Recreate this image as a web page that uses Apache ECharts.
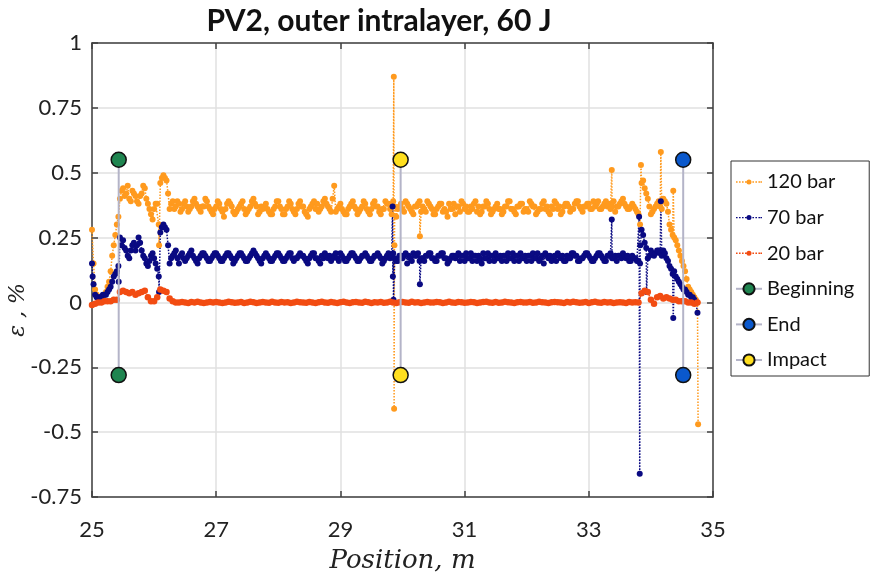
<!DOCTYPE html>
<html>
<head>
<meta charset="utf-8">
<script src="https://cdn.jsdelivr.net/npm/echarts@6/dist/echarts.min.js"></script>
<style>html,body{margin:0;padding:0;background:#fff}#c{width:892px;height:579px}</style>
</head>
<body>
<div id="c"></div>
<script>
const titleText = 'PV2, outer intralayer, 60 J';
const xTicks = [25, 27, 29, 31, 33, 35];
const yTicks = [-0.75, -0.5, -0.25, 0, 0.25, 0.5, 0.75, 1];

const positions = [
25.00,25.05,25.10,25.15,25.20,25.25,25.30,25.35,25.40,25.45,
25.50,25.55,25.60,25.65,25.70,25.75,25.80,25.85,25.90,25.95,
26.00,26.05,26.10,26.15,26.20,26.25,26.30,26.35,26.40,26.45,
26.50,26.55,26.60,26.65,26.70,26.75,26.80,26.85,26.90,26.95,
27.00,27.05,27.10,27.15,27.20,27.25,27.30,27.35,27.40,27.45,
27.50,27.55,27.60,27.65,27.70,27.75,27.80,27.85,27.90,27.95,
28.00,28.05,28.10,28.15,28.20,28.25,28.30,28.35,28.40,28.45,
28.50,28.55,28.60,28.65,28.70,28.75,28.80,28.85,28.90,28.95,
29.00,29.05,29.10,29.15,29.20,29.25,29.30,29.35,29.40,29.45,
29.50,29.55,29.60,29.65,29.70,29.75,29.80,29.85,29.90,29.95,
30.00,30.05,30.10,30.15,30.20,30.25,30.30,30.35,30.40,30.45,
30.50,30.55,30.60,30.65,30.70,30.75,30.80,30.85,30.90,30.95,
31.00,31.05,31.10,31.15,31.20,31.25,31.30,31.35,31.40,31.45,
31.50,31.55,31.60,31.65,31.70,31.75,31.80,31.85,31.90,31.95,
32.00,32.05,32.10,32.15,32.20,32.25,32.30,32.35,32.40,32.45,
32.50,32.55,32.60,32.65,32.70,32.75,32.80,32.85,32.90,32.95,
33.00,33.05,33.10,33.15,33.20,33.25,33.30,33.35,33.40,33.45,
33.50,33.55,33.60,33.65,33.70,33.75,33.80,33.85,33.90,33.95,
34.00,34.05,34.10,34.15,34.20,34.25,34.30,34.35,34.40,34.45,
34.50,34.55,34.60,34.65,34.70,34.75
];
const positionsB = [
25.025,25.075,25.125,25.175,25.225,25.275,25.325,25.375,25.425,25.475,
25.525,25.575,25.625,25.675,25.725,25.775,25.825,25.875,25.925,25.975,
26.025,26.075,26.125,26.175,26.225,26.275,26.325,26.375,26.425,26.475,
26.525,26.575,26.625,26.675,26.725,26.775,26.825,26.875,26.925,26.975,
27.025,27.075,27.125,27.175,27.225,27.275,27.325,27.375,27.425,27.475,
27.525,27.575,27.625,27.675,27.725,27.775,27.825,27.875,27.925,27.975,
28.025,28.075,28.125,28.175,28.225,28.275,28.325,28.375,28.425,28.475,
28.525,28.575,28.625,28.675,28.725,28.775,28.825,28.875,28.925,28.975,
29.025,29.075,29.125,29.175,29.225,29.275,29.325,29.375,29.425,29.475,
29.525,29.575,29.625,29.675,29.725,29.775,29.825,29.875,29.925,29.975,
30.025,30.075,30.125,30.175,30.225,30.275,30.325,30.375,30.425,30.475,
30.525,30.575,30.625,30.675,30.725,30.775,30.825,30.875,30.925,30.975,
31.025,31.075,31.125,31.175,31.225,31.275,31.325,31.375,31.425,31.475,
31.525,31.575,31.625,31.675,31.725,31.775,31.825,31.875,31.925,31.975,
32.025,32.075,32.125,32.175,32.225,32.275,32.325,32.375,32.425,32.475,
32.525,32.575,32.625,32.675,32.725,32.775,32.825,32.875,32.925,32.975,
33.025,33.075,33.125,33.175,33.225,33.275,33.325,33.375,33.425,33.475,
33.525,33.575,33.625,33.675,33.725,33.775,33.825,33.875,33.925,33.975,
34.025,34.075,34.125,34.175,34.225,34.275,34.325,34.375,34.425,34.475,
34.525,34.575,34.625,34.675,34.725
];

const eps120 = [
0.28,0.05,0.02,0.02,0.03,0.06,0.12,0.22,0.30,0.40,
0.44,0.42,0.40,0.43,0.41,0.38,0.42,0.44,0.38,0.34,
0.36,0.38,0.46,0.49,0.47,0.36,0.39,0.37,0.38,0.36,
0.39,0.35,0.37,0.40,0.37,0.35,0.37,0.39,0.36,0.34,
0.37,0.38,0.35,0.36,0.39,0.37,0.34,0.36,0.38,0.36,
0.35,0.37,0.40,0.37,0.35,0.36,0.38,0.35,0.34,0.37,
0.39,0.36,0.34,0.37,0.38,0.35,0.36,0.39,0.37,0.34,
0.36,0.38,0.36,0.35,0.37,0.40,0.37,0.35,0.45,0.36,
0.38,0.35,0.34,0.37,0.39,0.36,0.35,0.37,0.38,0.35,
0.36,0.39,0.37,0.34,0.36,0.38,0.36,0.39,0.33,0.37,
0.36,0.39,0.37,0.35,0.37,0.38,0.35,0.36,0.39,0.37,
0.34,0.36,0.38,0.35,0.35,0.38,0.36,0.34,0.37,0.39,
0.36,0.35,0.37,0.38,0.35,0.34,0.37,0.39,0.36,0.35,
0.37,0.36,0.34,0.37,0.39,0.36,0.35,0.37,0.38,0.35,
0.36,0.39,0.37,0.34,0.36,0.38,0.36,0.35,0.37,0.39,
0.36,0.34,0.37,0.38,0.35,0.36,0.39,0.37,0.35,0.37,
0.38,0.36,0.37,0.39,0.36,0.38,0.37,0.36,0.39,0.37,
0.38,0.40,0.37,0.36,0.38,0.36,0.34,0.46,0.44,0.40,
0.34,0.36,0.38,0.37,0.40,0.38,0.30,0.26,0.24,0.20,
0.16,0.12,0.06,0.04,0.02,0.00
];
const eps120b = [
0.15,0.03,0.02,0.02,0.04,0.08,0.18,0.26,0.33,0.43,
0.41,0.45,0.39,0.42,0.39,0.41,0.45,0.40,0.36,0.32,
0.38,0.30,0.48,0.48,0.42,0.38,0.36,0.39,0.35,0.38,
0.37,0.36,0.39,0.38,0.36,0.37,0.40,0.37,0.35,0.36,
0.39,0.36,0.33,0.38,0.38,0.35,0.35,0.37,0.39,0.34,
0.36,0.39,0.38,0.34,0.37,0.37,0.36,0.34,0.36,0.39,
0.37,0.34,0.36,0.39,0.36,0.34,0.38,0.37,0.35,0.33,
0.37,0.39,0.38,0.36,0.39,0.38,0.36,0.40,0.35,0.37,
0.36,0.34,0.36,0.38,0.37,0.34,0.36,0.39,0.36,0.34,
0.38,0.37,0.35,0.36,0.39,0.38,0.34,0.37,0.36,0.38,
0.35,0.38,0.36,0.34,0.37,0.39,0.37,0.35,0.38,0.36,
0.34,0.37,0.38,0.36,0.33,0.36,0.38,0.37,0.35,0.38,
0.37,0.35,0.36,0.39,0.37,0.35,0.37,0.38,0.34,0.36,
0.38,0.36,0.35,0.37,0.39,0.36,0.34,0.37,0.38,0.36,
0.35,0.38,0.37,0.35,0.36,0.39,0.37,0.34,0.36,0.38,
0.37,0.35,0.38,0.37,0.36,0.38,0.39,0.36,0.37,0.38,
0.36,0.39,0.38,0.36,0.37,0.39,0.38,0.37,0.35,0.37,
0.39,0.38,0.36,0.37,0.37,0.35,0.30,0.47,0.42,0.37,
0.35,0.37,0.39,0.36,0.39,0.35,0.28,0.25,0.22,0.18,
0.14,0.09,0.05,0.03,0.01
];
const spikePos120 = [26.08, 29.86, 29.865, 29.87, 30.28, 33.37, 33.84, 34.16, 34.36, 34.76];
const spikeEps120 = [0.22, 0.87, -0.41, 0.22, 0.255, 0.51, 0.53, 0.58, 0.43, -0.47];

const eps70 = [
0.15,0.03,0.02,0.02,0.03,0.04,0.06,0.10,0.12,0.25,
0.24,0.20,0.17,0.22,0.20,0.25,0.20,0.17,0.14,0.18,
0.17,0.13,0.27,0.30,0.28,0.15,0.18,0.20,0.15,0.19,
0.16,0.18,0.20,0.17,0.15,0.18,0.19,0.17,0.16,0.18,
0.19,0.17,0.16,0.18,0.19,0.17,0.16,0.18,0.19,0.17,
0.16,0.18,0.20,0.18,0.16,0.17,0.19,0.17,0.16,0.18,
0.19,0.17,0.16,0.18,0.19,0.16,0.17,0.19,0.18,0.16,
0.17,0.19,0.17,0.16,0.18,0.19,0.17,0.16,0.18,0.17,
0.19,0.17,0.16,0.18,0.19,0.17,0.16,0.18,0.19,0.17,
0.16,0.18,0.19,0.17,0.16,0.18,0.17,0.19,0.16,0.18,
0.17,0.19,0.18,0.16,0.18,0.19,0.17,0.16,0.18,0.19,
0.17,0.16,0.18,0.19,0.17,0.16,0.18,0.17,0.19,0.18,
0.16,0.17,0.19,0.18,0.16,0.17,0.19,0.17,0.16,0.18,
0.19,0.17,0.16,0.18,0.19,0.17,0.16,0.18,0.19,0.17,
0.16,0.18,0.19,0.17,0.16,0.18,0.19,0.17,0.16,0.18,
0.19,0.17,0.16,0.18,0.17,0.19,0.18,0.16,0.17,0.19,
0.18,0.16,0.17,0.19,0.18,0.16,0.18,0.19,0.17,0.16,
0.18,0.19,0.17,0.16,0.18,0.17,0.16,0.28,0.23,0.17,
0.20,0.18,0.20,0.19,0.20,0.17,0.14,0.11,0.10,0.08,
0.06,0.05,0.03,0.02,0.01,-0.04
];
const eps70b = [
0.07,0.02,0.02,0.03,0.03,0.05,0.08,0.11,0.14,0.22,
0.21,0.18,0.20,0.23,0.22,0.23,0.18,0.15,0.16,0.19,
0.15,0.10,0.29,0.29,0.22,0.17,0.19,0.17,0.18,0.17,
0.17,0.19,0.18,0.16,0.17,0.19,0.18,0.16,0.17,0.19,
0.18,0.16,0.17,0.19,0.18,0.15,0.17,0.19,0.18,0.16,
0.17,0.19,0.19,0.17,0.15,0.18,0.18,0.16,0.17,0.19,
0.18,0.16,0.17,0.19,0.17,0.17,0.18,0.18,0.17,0.15,
0.18,0.19,0.17,0.15,0.17,0.18,0.18,0.17,0.19,0.16,
0.18,0.16,0.17,0.19,0.18,0.16,0.17,0.18,0.18,0.16,
0.17,0.18,0.18,0.15,0.17,0.19,0.18,0.17,0.16,0.18,
0.18,0.15,0.17,0.19,0.18,0.16,0.17,0.18,0.19,0.17,
0.16,0.18,0.19,0.17,0.15,0.17,0.18,0.18,0.16,0.18,
0.19,0.17,0.16,0.18,0.18,0.15,0.17,0.19,0.18,0.16,
0.17,0.18,0.18,0.16,0.17,0.19,0.18,0.16,0.17,0.18,
0.18,0.16,0.17,0.19,0.17,0.15,0.18,0.18,0.17,0.16,
0.18,0.18,0.16,0.17,0.19,0.18,0.16,0.17,0.18,0.19,
0.17,0.16,0.18,0.19,0.17,0.16,0.18,0.17,0.18,0.18,
0.17,0.18,0.18,0.16,0.17,0.16,0.15,0.26,0.21,0.18,
0.19,0.19,0.20,0.18,0.19,0.16,0.13,0.12,0.09,0.07,
0.05,0.04,0.03,0.02,0.00
];
const spikePos70 = [25.01, 25.43, 26.08, 29.84, 29.845, 29.855, 30.28, 33.37, 33.81, 33.82, 33.83, 33.93, 34.16, 34.36];
const spikeEps70 = [0.10, 0.08, 0.04, 0.37, 0.10, 0.01, 0.07, 0.32, 0.33, -0.66, 0.22, 0.04, 0.39, -0.06];

const eps20 = [
-0.01,-0.005,0.0,0.0,0.005,0.005,0.005,0.01,0.01,0.04,
0.045,0.04,0.035,0.04,0.03,0.035,0.04,0.045,0.02,0.005,
0.005,0.02,0.05,0.045,0.04,0.015,0.005,0.0,0.0,0.002,
0.0,-0.002,0.002,0.0,0.003,0.0,-0.002,0.0,0.002,0.0,
0.002,0.0,-0.002,0.0,0.003,0.001,-0.001,0.0,0.002,-0.002,
0.0,0.003,0.001,-0.002,0.0,0.002,0.0,-0.001,0.003,0.0,
-0.001,0.002,0.0,0.001,-0.002,0.0,0.003,0.001,0.0,-0.001,
0.002,0.0,-0.002,0.001,0.003,0.0,-0.001,0.002,0.0,-0.002,
0.001,0.003,0.0,-0.002,0.001,0.002,0.0,-0.001,0.003,0.001,
-0.002,0.001,0.0,0.002,-0.001,0.0,0.003,0.0,-0.002,0.001,
0.002,0.0,-0.001,0.003,0.0,0.001,-0.002,0.0,0.002,0.0,
0.0,0.002,0.001,-0.002,0.0,0.003,0.0,-0.001,0.002,0.001,
-0.001,0.0,0.002,0.001,-0.002,0.0,0.002,0.003,0.0,-0.001,
0.002,-0.001,0.0,0.003,0.001,0.0,-0.002,0.001,0.002,0.0,
0.0,0.002,-0.001,0.0,0.003,0.001,0.0,-0.002,0.001,0.002,
0.001,0.0,-0.002,0.002,0.0,0.003,0.001,-0.001,0.0,0.002,
-0.002,0.001,0.003,0.0,-0.001,0.002,0.0,0.001,-0.002,0.0,
0.001,0.0,-0.002,0.002,0.0,0.001,0.0,0.035,0.045,0.04,
0.01,-0.005,0.02,0.025,0.015,0.02,0.015,0.01,0.01,0.005,
0.005,0.005,0.0,0.0,-0.005,0.0
];

const beginPos = [25.43, 25.43];
const beginEps = [0.55, -0.28];
const endPos = [34.52, 34.52];
const endEps = [0.55, -0.28];
const impactPos = [29.97, 29.97];
const impactEps = [0.55, -0.28];

function merge(groups) {
  const pts = [];
  groups.forEach(([xs, ys]) => xs.forEach((x, i) => pts.push([x, ys[i]])));
  pts.sort((a, b) => a[0] - b[0]);
  return pts;
}
function pair(xs, ys) { return xs.map((x, i) => [x, ys[i]]); }

const FONT = 'Lato';
// dotted-line-with-dot legend glyph in a 26x14 box
const dotIcon = 'path://M0,0h0.01v0.01h-0.01z M26,14h-0.01v-0.01h0.01z ' +
  'M0,6.3h1.6v1.4h-1.6z M3,6.3h1.6v1.4h-1.6z M6,6.3h1.6v1.4h-1.6z M9,6.3h1.6v1.4h-1.6z ' +
  'M16.4,6.3h1.6v1.4h-1.6z M19.4,6.3h1.6v1.4h-1.6z M22.4,6.3h1.6v1.4h-1.6z M24.4,6.3h1.6v1.4h-1.6z ' +
  'M10.5,7a2.5,2.5 0 1,0 5,0a2.5,2.5 0 1,0 -5,0z';

const chart = echarts.init(document.getElementById('c'), null, {renderer: 'canvas'});

function dataSeries(name, color, data, size) {
  return {
    name, type: 'line', data, color,
    symbol: 'circle', symbolSize: size, showSymbol: true, showAllSymbol: true,
    lineStyle: {color, width: 1.5, type: 'dotted'},
    itemStyle: {color, borderWidth: 0},
    emphasis: {disabled: true}, animation: false, z: 3
  };
}
function markerSeries(name, color, data) {
  return {
    name, type: 'line', data, color,
    symbol: 'circle', symbolSize: 15,
    lineStyle: {color: '#b4b4c8', width: 2, type: 'solid'},
    itemStyle: {color, borderColor: '#111', borderWidth: 1.5},
    emphasis: {disabled: true}, animation: false, z: 5
  };
}

const axisLineStyle = {color: '#404040', width: 1.5};
const option = {
  backgroundColor: '#fff',
  animation: false,
  grid: {left: 92, top: 43, right: 179, bottom: 76, show: false},
  graphic: [
    {type: 'text', x: 379, y: 21, style: {text: titleText, font: 'bold 30px ' + FONT, fill: '#111', textAlign: 'center', textVerticalAlign: 'middle'}},
    {type: 'text', x: 18, y: 310, rotation: Math.PI / 2, style: {text: 'ε , %', font: 'italic 22px "DejaVu Serif"', fill: '#222', textAlign: 'center', textVerticalAlign: 'middle'}}
  ],
  legend: {
    orient: 'vertical', left: 731, top: 161,
    backgroundColor: '#fff', borderColor: '#333', borderWidth: 1,
    padding: [11, 15, 6, 4], itemGap: 15.6, itemWidth: 26, itemHeight: 14,
    textStyle: {fontFamily: FONT, fontSize: 20, lineHeight: 20, color: '#111'},
    data: [
      {name: '120 bar', icon: dotIcon},
      {name: '70 bar', icon: dotIcon},
      {name: '20 bar', icon: dotIcon},
      'Beginning', 'End', 'Impact'
    ]
  },
  xAxis: [
    {type: 'value', min: 25, max: 35, interval: 2, position: 'bottom',
      name: 'Position, m', nameLocation: 'middle', nameGap: 51,
      nameTextStyle: {fontFamily: '"DejaVu Serif"', fontStyle: 'italic', fontSize: 26, color: '#222'},
      axisLine: {show: true, onZero: false, lineStyle: axisLineStyle},
      axisTick: {show: true, inside: true, length: 6, lineStyle: axisLineStyle},
      axisLabel: {fontFamily: FONT, fontSize: 22, color: '#222', margin: 22,
        formatter: v => xTicks.includes(v) ? String(v) : ''},
      splitLine: {show: true, lineStyle: {color: '#e0e0e0', width: 1.5}}},
    {type: 'value', min: 25, max: 35, interval: 2, position: 'top',
      axisLine: {show: true, onZero: false, lineStyle: axisLineStyle},
      axisTick: {show: true, inside: true, length: 6, lineStyle: axisLineStyle},
      axisLabel: {show: false}, splitLine: {show: false}}
  ],
  yAxis: [
    {type: 'value', min: -0.75, max: 1, interval: 0.25, position: 'left',
      axisLine: {show: true, onZero: false, lineStyle: axisLineStyle},
      axisTick: {show: true, inside: true, length: 6, lineStyle: axisLineStyle},
      axisLabel: {fontFamily: FONT, fontSize: 22, color: '#222', margin: 10,
        formatter: v => yTicks.some(t => Math.abs(t - v) < 1e-9) ? String(+v.toFixed(2)) : ''},
      splitLine: {show: true, lineStyle: {color: '#e0e0e0', width: 1.5}}},
    {type: 'value', min: -0.75, max: 1, interval: 0.25, position: 'right',
      axisLine: {show: true, onZero: false, lineStyle: axisLineStyle},
      axisTick: {show: true, inside: true, length: 6, lineStyle: axisLineStyle},
      axisLabel: {show: false}, splitLine: {show: false}}
  ],
  series: [
    dataSeries('120 bar', '#ff9a1e', merge([[positions, eps120], [positionsB, eps120b], [spikePos120, spikeEps120]]), 6),
    dataSeries('70 bar', '#0a0a82', merge([[positions, eps70], [positionsB, eps70b], [spikePos70, spikeEps70]]), 6),
    dataSeries('20 bar', '#f24c12', merge([[positions, eps20]]), 6.5),
    markerSeries('Beginning', '#1f8550', pair(beginPos, beginEps)),
    markerSeries('End', '#0a58cc', pair(endPos, endEps)),
    markerSeries('Impact', '#ffdf1f', pair(impactPos, impactEps))
  ]
};
chart.setOption(option);
</script>
</body>
</html>
